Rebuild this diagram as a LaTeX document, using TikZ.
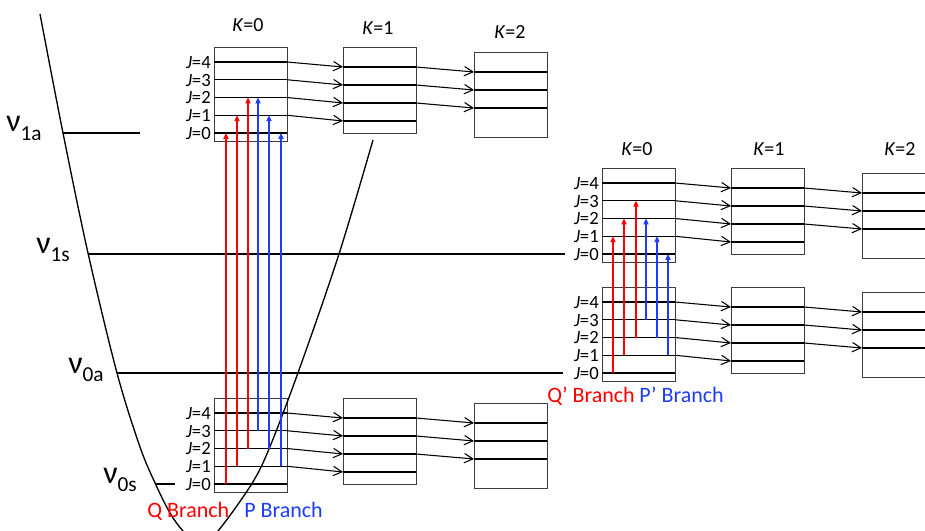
\documentclass[tikz,border=0pt]{standalone}
\usepackage{fontspec}
\setmainfont{Carlito}
\usetikzlibrary{arrows.meta,calc,fit}
\definecolor{qred}{RGB}{255,0,0}
\definecolor{pblue}{RGB}{30,60,255}
\definecolor{boxgray}{RGB}{60,60,60}
\tikzset{
  kbox/.style={draw=boxgray, line width=0.6pt, inner sep=0pt, outer sep=0pt},
  jline/.style={draw=black, line width=1pt},
  karr/.style={draw=black, line width=0.8pt, -{Straight Barb[length=6.5pt,width=7pt]}},
  qarr/.style={draw=qred, line width=0.8pt, -{Triangle[length=4.5pt,width=4pt]}},
  parr/.style={draw=pblue, line width=0.8pt, -{Triangle[length=4.5pt,width=4pt]}},
  jlab/.style={anchor=east, inner sep=0pt, font=\fontsize{14pt}{16pt}\selectfont},
  klab/.style={inner sep=0pt, font=\fontsize{15pt}{17pt}\selectfont},
  blab/.style={anchor=base west, inner sep=0pt, font=\fontsize{16.5pt}{18pt}\selectfont},
  nulab/.style={anchor=base west, inner sep=0pt, font=\fontsize{24pt}{26pt}\selectfont},
  lev/.style={draw=black, line width=1pt},
  curve/.style={draw=black, line width=1pt},
}
\newcommand\RotLadder[3]{%
  \node[kbox, fit={(#2,#3) (#2+73,#3+94)}] (#1K0) {};
  \node[kbox, fit={(#2+129,#3) (#2+202,#3+86)}] (#1K1) {};
  \node[kbox, fit={(#2+260,#3+5) (#2+333,#3+90)}] (#1K2) {};
  \foreach \j in {0,...,4}{
    \pgfmathsetmacro\yy{#3+86-\j*17.75}
    \coordinate (#1K0j\j w) at (#2,\yy);
    \coordinate (#1K0j\j e) at (#2+73,\yy);
    \draw[jline] (#1K0j\j w) -- (#1K0j\j e);
    \node[jlab] (#1L\j) at (#2-3,\yy+0.5) {\textit{J}=\j};
  }
  \foreach \j in {1,...,4}{
    \pgfmathsetmacro\yy{#3+20+(4-\j)*18}
    \coordinate (#1K1j\j w) at (#2+129,\yy);
    \coordinate (#1K1j\j e) at (#2+202,\yy);
    \draw[jline] (#1K1j\j w) -- (#1K1j\j e);
    \draw[karr] (#1K0j\j e) -- (#1K1j\j w);
  }
  \foreach \j in {2,...,4}{
    \pgfmathsetmacro\yy{#3+25+(4-\j)*18}
    \coordinate (#1K2j\j w) at (#2+260,\yy);
    \coordinate (#1K2j\j e) at (#2+333,\yy);
    \draw[jline] (#1K2j\j w) -- (#1K2j\j e);
    \draw[karr] (#1K1j\j e) -- (#1K2j\j w);
  }
}
\begin{document}
\begin{tikzpicture}[x=0.75pt,y=-0.75pt]
\useasboundingbox (0,0) rectangle (925,531);
\clip (0,0) rectangle (925,531);
\fill[white] (0,0) rectangle (925,531);

% rotational ladders
\RotLadder{UL}{214}{47}
\RotLadder{LL}{214}{398}
\RotLadder{UR}{602}{168}
\RotLadder{LR}{602}{287}

% K labels
\node[klab] (ULk0) at (248,25) {\textit{K}=0};
\node[klab] (ULk1) at (378,28) {\textit{K}=1};
\node[klab] (ULk2) at (510,32) {\textit{K}=2};
\node[klab] (URk0) at (637,149) {\textit{K}=0};
\node[klab] (URk1) at (769,149) {\textit{K}=1};
\node[klab] (URk2) at (900,149) {\textit{K}=2};

% vibrational levels
\draw[lev] (63,133) -- (140,133);
\draw[lev] (88,254) -- (565,254);
\draw[lev] (117,373) -- (563,373);
\draw[lev] (155,484) -- (175,484);

\node[nulab] (nu1a) at (6,132) {ν\raisebox{-6.5pt}{\fontsize{16pt}{16pt}\selectfont 1a}};
\node[nulab] (nu1s) at (36,253) {ν\raisebox{-6.5pt}{\fontsize{16pt}{16pt}\selectfont 1s}};
\node[nulab] (nu0a) at (68,373) {ν\raisebox{-6.5pt}{\fontsize{16pt}{16pt}\selectfont 0a}};
\node[nulab] (nu0s) at (103,483) {ν\raisebox{-6.5pt}{\fontsize{16pt}{16pt}\selectfont 0s}};

% potential curve
\draw[curve] plot[smooth, tension=0.55] coordinates {(40,14) (63,133) (88,253) (117,373) (140,447) (156,485) (170,513) (183,531) (200,546) (218,531) (251,485) (269,449) (299,370) (339,254) (373,140)};

% transitions, left
\foreach \dx/\lo/\hi in {12/0/0, 23/1/1, 34/2/2}
  \draw[qarr] ($(LLK0j\lo w)+(\dx,0)$) -- ($(ULK0j\hi w)+(\dx,0)$);
\foreach \dx/\lo/\hi in {44/3/2, 55/2/1, 67/1/0}
  \draw[parr] ($(LLK0j\lo w)+(\dx,0)$) -- ($(ULK0j\hi w)+(\dx,0)$);
% transitions, right
\foreach \dx/\lo/\hi in {11/0/1, 22/1/2, 34/2/3}
  \draw[qarr] ($(LRK0j\lo w)+(\dx,0)$) -- ($(URK0j\hi w)+(\dx,0)$);
\foreach \dx/\lo/\hi in {44/3/2, 55/2/1, 66/1/0}
  \draw[parr] ($(LRK0j\lo w)+(\dx,0)$) -- ($(URK0j\hi w)+(\dx,0)$);

% branch labels
\node[blab, text=qred] (qb) at (147,517) {Q Branch};
\node[blab, text=pblue] (pb) at (244,517) {P Branch};
\node[blab, text=qred] (qpb) at (547,402) {Q’ Branch};
\node[blab, text=pblue] (ppb) at (639,402) {P’ Branch};
\end{tikzpicture}
\end{document}
